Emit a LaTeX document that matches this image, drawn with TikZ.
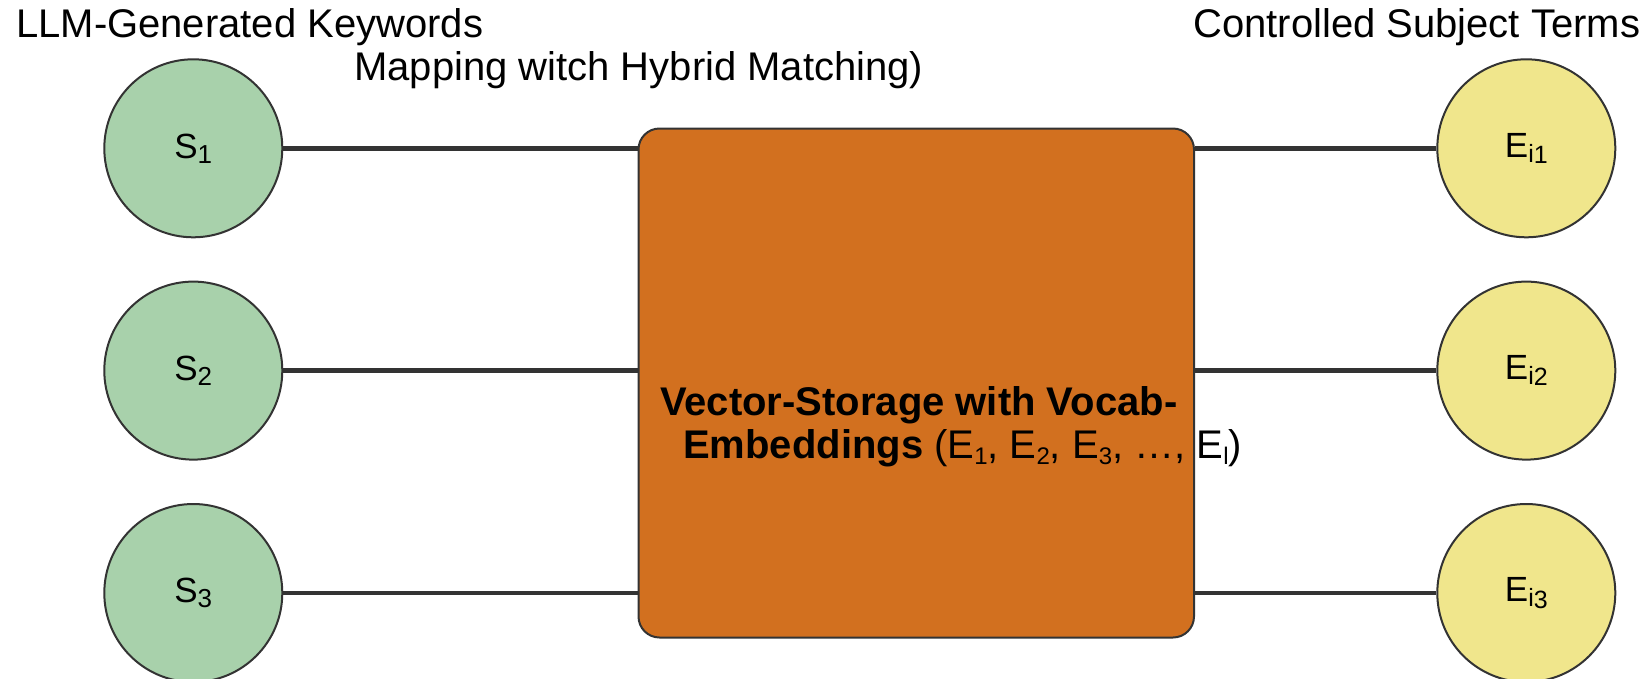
\documentclass[tikz,border=0pt]{standalone}
\usepackage{fontspec}
\setmainfont{Liberation Sans}
\definecolor{sgreen}{RGB}{168,209,171}
\definecolor{eyellow}{RGB}{240,230,140}
\definecolor{borange}{RGB}{210,112,31}
\definecolor{edgegray}{RGB}{51,51,51}
\newcommand{\circsub}[1]{\raisebox{-5pt}{\fontsize{26}{26}\selectfont #1}}
\newcommand{\txtsub}[1]{\raisebox{-6.5pt}{\fontsize{24}{24}\selectfont #1}}
\newcommand{\eisub}[1]{\raisebox{-5pt}{\fontsize{25}{25}\selectfont i}\raisebox{-6.5pt}{\fontsize{25}{25}\selectfont #1}}
\begin{document}
\begin{tikzpicture}[x=1pt,y=-1pt,
  kw/.style={circle, draw=edgegray, line width=2pt, fill=sgreen, minimum size=178pt, inner sep=0pt, font=\fontsize{35}{40}\selectfont},
  term/.style={kw, fill=eyellow},
  store/.style={draw=edgegray, line width=2pt, fill=borange, rounded corners=21pt, inner sep=0pt},
  link/.style={draw=edgegray, line width=4.5pt},
  lbl/.style={anchor=base west, inner sep=0pt, font=\fontsize{40}{48}\selectfont}]
\useasboundingbox (0,0) rectangle (1647,678);
\clip (0,0) rectangle (1647,678);

\node[kw] (s1) at (193.3,148.3) {S\circsub{1}};
\node[kw] (s2) at (193.3,370.6) {S\circsub{2}};
\node[kw] (s3) at (193.3,593) {S\circsub{3}};

\node[term] (e1) at (1526.3,148.3) {E\eisub{1}};
\node[term] (e2) at (1526.3,370.6) {E\eisub{2}};
\node[term] (e3) at (1526.3,593) {E\eisub{3}};

\node[store, minimum width=555.5pt, minimum height=509pt, anchor=north west] (box) at (637.5,127.5) {};

\draw[link] (s1.east) -- (s1.east -| box.west);
\draw[link] (s2.east) -- (s2.east -| box.west);
\draw[link] (s3.east) -- (s3.east -| box.west);
\draw[link] (e1.west -| box.east) -- (e1.west);
\draw[link] (e2.west -| box.east) -- (e2.west);
\draw[link] (e3.west -| box.east) -- (e3.west);

\node[lbl] (t1) at (16,37.3) {LLM-Generated Keywords};
\node[lbl] (t2) at (1193,37.3) {Controlled Subject Terms};
\node[lbl] (t3) at (354,80.7) {Mapping witch Hybrid Matching)};

\node[lbl] (c1) at (660,415) {\textbf{Vector-Storage with Vocab-}};
\node[lbl] (c2) at (683,458) {\textbf{Embeddings} (E\txtsub{1}, E\txtsub{2}, E\txtsub{3}, …, E\txtsub{l})};
\end{tikzpicture}
\end{document}
